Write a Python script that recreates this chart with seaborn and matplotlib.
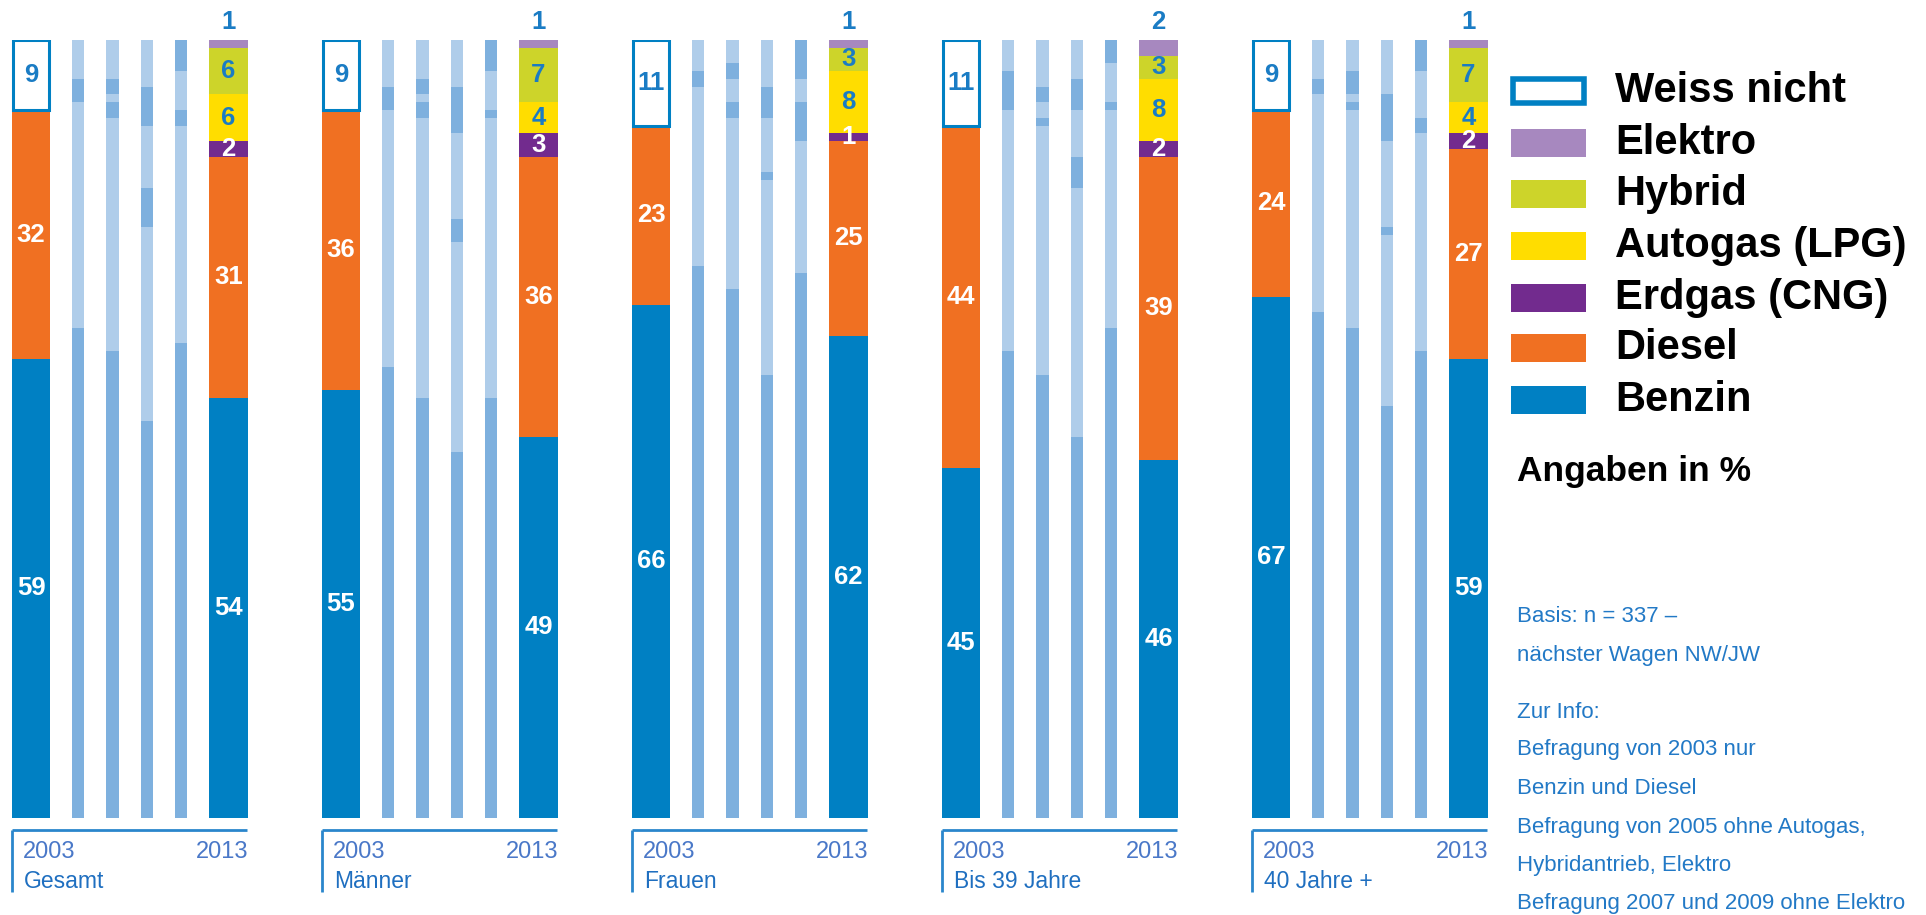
import matplotlib
matplotlib.use("Agg")
import matplotlib.pyplot as plt
from matplotlib import font_manager
from matplotlib.patches import Rectangle
import seaborn as sns

# ---------------- data ----------------
groups = ["Gesamt", "Männer", "Frauen", "Bis 39 Jahre", "40 Jahre +"]
legend_labels = ["Weiss nicht", "Elektro", "Hybrid", "Autogas (LPG)",
                 "Erdgas (CNG)", "Diesel", "Benzin"]
year_first, year_last = "2003", "2013"

# 2003 (only Benzin, Diesel, Weiss nicht)
benzin_2003 = [59, 55, 66, 45, 67]
diesel_2003 = [32, 36, 23, 44, 24]
weiss_2003 = [9, 9, 11, 11, 9]

# 2013
benzin_2013 = [54, 49, 62, 46, 59]
diesel_2013 = [31, 36, 25, 39, 27]
erdgas_2013 = [2, 3, 1, 2, 2]
autogas_2013 = [6, 4, 8, 8, 4]
hybrid_2013 = [6, 7, 3, 3, 7]
elektro_2013 = [1, 1, 1, 2, 1]

# intermediate surveys 2005, 2007, 2009, 2011 (faded bars); rows = groups
mid_benzin = [[63, 60, 51, 61], [58, 54, 47, 54], [71, 68, 57, 70], [60, 57, 49, 63], [65, 63, 53, 60]]
mid_diesel = [[29, 30, 25, 28], [33, 36, 27, 36], [23, 22, 25, 17], [31, 32, 32, 28], [28, 28, 22, 28]]
mid_erdgas = [[3, 2, 5, 2], [3, 2, 3, 1], [2, 2, 1, 5], [5, 1, 4, 1], [2, 1, 1, 2]]
mid_autogas = [[0, 1, 8, 5], [0, 1, 11, 5], [0, 3, 7, 3], [0, 2, 6, 5], [0, 1, 11, 6]]
mid_hybrid = [[0, 2, 5, 4], [0, 2, 6, 4], [0, 2, 4, 5], [0, 2, 4, 3], [0, 3, 6, 4]]
mid_weiss = [[5, 5, 6, 0], [6, 5, 6, 0], [4, 3, 6, 0], [4, 6, 5, 0], [5, 4, 7, 0]]

notes = ["Basis: n = 337 –", "nächster Wagen NW/JW", "", "Zur Info:",
         "Befragung von 2003 nur", "Benzin und Diesel",
         "Befragung von 2005 ohne Autogas,", "Hybridantrieb, Elektro",
         "Befragung 2007 und 2009 ohne Elektro"]

# ---------------- style ----------------
sns.set_theme(style="white")
available = {f.name for f in font_manager.fontManager.ttflist}
NARROW = "Liberation Sans Narrow" if "Liberation Sans Narrow" in available else "Liberation Sans"
narrow_ok = NARROW == "Liberation Sans Narrow"
plt.rcParams["font.family"] = ["Liberation Sans", "DejaVu Sans"]

pal = sns.color_palette(["#0080C3", "#F07022", "#722B8E", "#FFDD00",
                         "#CDD42A", "#A788BF"])
C_BENZIN, C_DIESEL, C_ERDGAS, C_AUTOGAS, C_HYBRID, C_ELEKTRO = pal
C_MID_DARK, C_MID_LIGHT = "#7EB0DE", "#AFCDEA"
C_TXT = "#1A7CC4"
C_AXIS = "#2A86CC"
C_YEAR = "#4A78C8"

fig = plt.figure(figsize=(19.26, 9.15), dpi=100)
TOP_PX, BOT_PX = 40, 818
ax = fig.add_axes([0, (915 - BOT_PX) / 915, 1, (BOT_PX - TOP_PX) / 915])
ax.set_xlim(0, 1926)
ax.set_ylim(0, 100)
ax.axis("off")


def py(ypx):
    return (BOT_PX - ypx) / (BOT_PX - TOP_PX) * 100


GROUP_STEP = 310
CENTERS = [31, 78, 112, 147, 181, 228.5]
WIDTHS = [38, 12, 13, 12, 12, 39]
LBL_FS = 22 if narrow_ok else 18.5


def seg_label(x, y, v, color):
    ax.text(x, y, str(v), ha="center", va="center", color=color,
            fontsize=LBL_FS, fontweight="bold", family=NARROW)


for g, name in enumerate(groups):
    off = g * GROUP_STEP
    # ---- 2003 bar ----
    x, w = off + CENTERS[0], WIDTHS[0]
    bottom = 0
    for v, c in [(benzin_2003[g], C_BENZIN), (diesel_2003[g], C_DIESEL)]:
        ax.bar(x, v, bottom=bottom, width=w, color=c, linewidth=0)
        seg_label(x, bottom + v / 2, v, "white")
        bottom += v
    ax.bar(x, weiss_2003[g], bottom=bottom, width=w - 1.5, facecolor="white",
           edgecolor=C_BENZIN, linewidth=2.2)
    seg_label(x, bottom + weiss_2003[g] / 2, weiss_2003[g], C_TXT)

    # ---- faded middle bars ----
    for k in range(4):
        x, w = off + CENTERS[k + 1], WIDTHS[k + 1]
        vals = [mid_benzin[g][k], mid_diesel[g][k], mid_erdgas[g][k],
                mid_autogas[g][k], mid_hybrid[g][k], mid_weiss[g][k]]
        bottom, i = 0, 0
        for v in vals:
            if v <= 0:
                continue
            ax.bar(x, v, bottom=bottom, width=w,
                   color=C_MID_DARK if i % 2 == 0 else C_MID_LIGHT, linewidth=0)
            bottom += v
            i += 1

    # ---- 2013 bar ----
    x, w = off + CENTERS[5], WIDTHS[5]
    segs = [(benzin_2013[g], C_BENZIN, "white"), (diesel_2013[g], C_DIESEL, "white"),
            (erdgas_2013[g], C_ERDGAS, "white"), (autogas_2013[g], C_AUTOGAS, C_TXT),
            (hybrid_2013[g], C_HYBRID, C_TXT)]
    bottom = 0
    for v, c, tc in segs:
        ax.bar(x, v, bottom=bottom, width=w, color=c, linewidth=0)
        seg_label(x, bottom + v / 2, v, tc)
        bottom += v
    ax.bar(x, elektro_2013[g], bottom=bottom, width=w, color=C_ELEKTRO, linewidth=0)
    seg_label(x, py(22), elektro_2013[g], C_TXT)

    # ---- group axis ----
    x0, x1 = off + 12, off + 247
    ax.plot([x0, x1], [py(830), py(830)], color=C_AXIS, lw=2, clip_on=False,
            solid_capstyle="butt")
    ax.plot([x0, x0], [py(830), py(892)], color=C_AXIS, lw=2, clip_on=False,
            solid_capstyle="butt")
    yfs = 20.5 if narrow_ok else 17
    ax.text(off + 23, py(852), year_first, ha="left", va="center", color=C_YEAR,
            fontsize=yfs, family=NARROW)
    ax.text(x1 + 1, py(852), year_last, ha="right", va="center", color=C_YEAR,
            fontsize=yfs, family=NARROW)
    ax.text(off + 24, py(882), name, ha="left", va="center", color="#1F6FC0",
            fontsize=20 if narrow_ok else 16.5, family=NARROW)

# ---------------- legend ----------------
leg_colors = [None, C_ELEKTRO, C_HYBRID, C_AUTOGAS, C_ERDGAS, C_DIESEL, C_BENZIN]
leg_y = [91, 143, 194, 246, 298, 348, 400]
for lab, c, ycen in zip(legend_labels, leg_colors, leg_y):
    h = 28
    if c is None:
        r = Rectangle((1513, py(ycen + 11.5)), 71, py(ycen - 11.5) - py(ycen + 11.5),
                      facecolor="white", edgecolor=C_BENZIN, linewidth=4, clip_on=False)
    else:
        r = Rectangle((1511, py(ycen + h / 2)), 75, py(ycen - h / 2) - py(ycen + h / 2),
                      facecolor=c, edgecolor="none", clip_on=False)
    ax.add_patch(r)
    ax.text(1615, py(ycen), lab, ha="left", va="center", color="black",
            fontsize=30, fontweight="bold", family="Liberation Sans")

ax.text(1517, py(472), "Angaben in %", ha="left", va="center", color="black",
        fontsize=25.5, fontweight="bold", family="Liberation Sans")

note_y = [617, 655, None, 712, 750, 789, 827, 866, 904]
for txt, yy in zip(notes, note_y):
    if not txt:
        continue
    ax.text(1517, py(yy), txt, ha="left", va="center", color="#2279C6",
            fontsize=16, family="Liberation Sans", clip_on=False)

fig.savefig("out.png", dpi=100, facecolor="white")
